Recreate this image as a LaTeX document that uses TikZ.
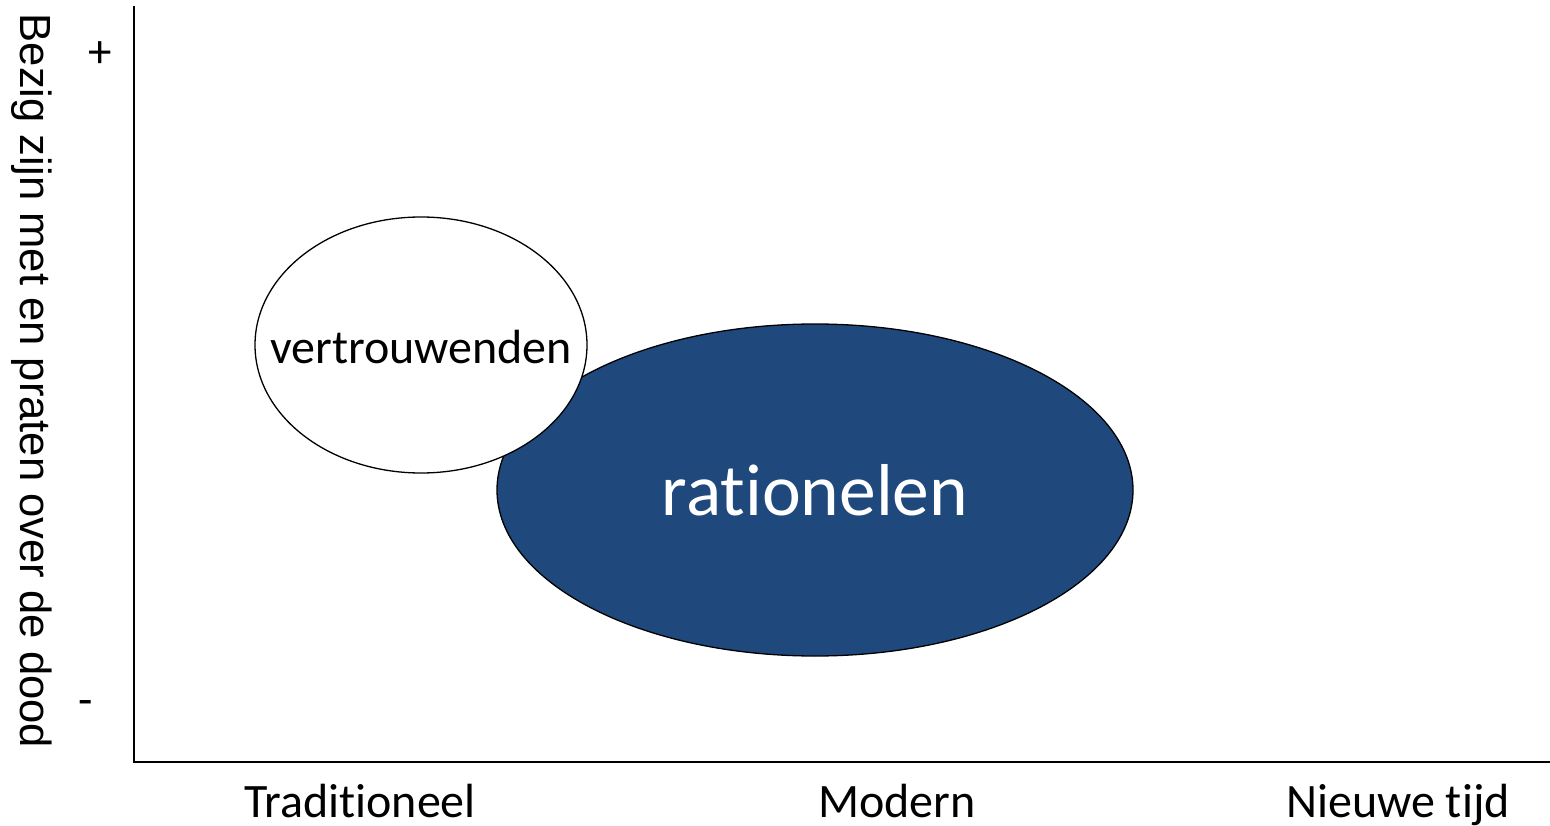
\documentclass[tikz,border=0pt]{standalone}
\usepackage{fontspec}
\usetikzlibrary{shapes.geometric}
\setmainfont{Carlito}[Ligatures={NoCommon}]
\newfontfamily\labelfont{Liberation Sans}
\definecolor{rblue}{HTML}{1F497D}
\begin{document}
\begin{tikzpicture}[x=1pt,y=-1pt,
  axisline/.style={line width=2pt,black},
  blob/.style={draw=black,line width=1.3pt,ellipse,inner sep=0pt,outer sep=0pt},
  lbl/.style={font=\fontsize{48}{52}\selectfont,inner sep=0pt,anchor=base}]
\useasboundingbox (0,0) rectangle (1550,826);
% axes
\coordinate (top) at (134,6);
\coordinate (origin) at (134,762);
\coordinate (right) at (1550,762);
\draw[axisline] (top) -- (origin) -- (right);
% ellipses
\node[blob,fill=rblue,minimum width=636pt,minimum height=332pt] (ratbg) at (815,490) {};
\node[blob,fill=white,minimum width=332pt,minimum height=256pt] (verbg) at (421,345) {};
\node[lbl,text=white,font=\fontsize{73.5}{80}\selectfont] (rat) at (815,515) {rationelen};
\node[lbl] (ver) at (421,363) {vertrouwenden};
% axis labels
\node[lbl] (trad) at (360,817) {Traditioneel};
\node[lbl] (mod) at (897,817) {Modern};
\node[lbl] (nt) at (1398,817) {Nieuwe tijd};
\node[font=\fontsize{47}{52}\selectfont,inner sep=0pt] (plus) at (100,55) {+};
\node[font=\fontsize{47}{52}\selectfont,inner sep=0pt] (minus) at (86,708) {-};
\node[font=\labelfont\fontsize{43.6}{48}\selectfont,inner sep=0pt,anchor=base,rotate=-90] (ylab) at (20,381) {Bezig zijn met en praten over de dood};
\end{tikzpicture}
\end{document}
